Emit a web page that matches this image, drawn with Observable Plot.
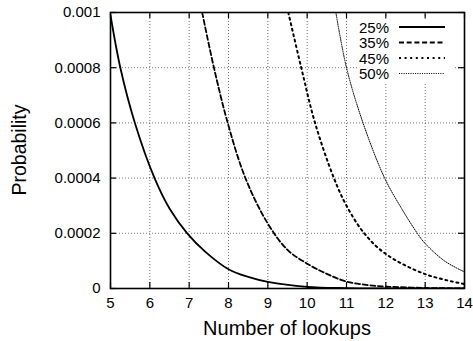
<!DOCTYPE html>
<html><head><meta charset="utf-8">
<script src="https://cdn.jsdelivr.net/npm/d3@7"></script>
<script src="https://cdn.jsdelivr.net/npm/@observablehq/plot@0.6"></script>
<style>
body{margin:0;background:#fff}
#chart svg{font-family:"Liberation Sans",Arial,Helvetica,sans-serif;display:block}
</style>
</head><body><div id="chart"></div>
<script>
const xTicks = [5, 6, 7, 8, 9, 10, 11, 12, 13, 14];
const yTicks = [0, 0.0002, 0.0004, 0.0006, 0.0008, 0.001];
const yTickLabels = ["0", "0.0002", "0.0004", "0.0006", "0.0008", "0.001"];
const seriesNames = ["25%", "35%", "45%", "50%"];

const lookups25 = [5, 5.25, 5.62, 6.12, 6.5, 6.95, 7.42, 8, 8.5, 9, 10, 11, 12, 13, 14];
const prob25 = [0.00099, 0.0008, 0.0006, 0.0004, 0.00029, 0.0002, 0.000132, 0.00007, 0.000042, 0.000024, 0.000006, 0.0000015, 0.0000004, 0.0000001, 0];
const lookups35 = [7.33, 7.63, 7.98, 8.43, 9.0, 9.5, 10, 10.5, 11, 11.5, 12, 13, 14];
const prob35 = [0.001, 0.0008, 0.0006, 0.0004, 0.000235, 0.00014, 0.00009, 0.000053, 0.000025, 0.000013, 0.000007, 0.000002, 0.0000005];
const lookups45 = [9.52, 9.85, 10.2, 10.68, 11.0, 11.45, 12, 13, 14];
const prob45 = [0.001, 0.0008, 0.0006, 0.0004, 0.0003, 0.0002, 0.000125, 0.000052, 0.000016];
const lookups50 = [10.73, 11.0, 11.42, 11.97, 12.4, 12.8, 13, 13.5, 14];
const prob50 = [0.001, 0.0008, 0.0006, 0.0004, 0.00029, 0.0002, 0.000163, 0.000099, 0.00006];

const styles = [
  {dash: null, width: 1.8},
  {dash: "5,2.7", width: 1.8},
  {dash: "2,3.6", width: 2},
  {dash: "1,1.3", width: 1}
];
const seriesX = [lookups25, lookups35, lookups45, lookups50];
const seriesY = [prob25, prob35, prob45, prob50];
const rows = seriesNames.map((name, s) => seriesX[s].map((x, i) => ({name, x, y: seriesY[s][i]})));

const W = 473, H = 341, mL = 110, mR = 9, mT = 12, mB = 53;
const fw = W - mL - mR, fh = H - mT - mB, tick = 6;
const labelMap = new Map(yTicks.map((d, i) => [d, yTickLabels[i]]));
const gridStyle = {stroke: "#000", strokeOpacity: 0.55, strokeDasharray: "1,2", strokeWidth: 1};

const chart = Plot.plot({
  width: W, height: H,
  marginLeft: mL, marginRight: mR, marginTop: mT, marginBottom: mB,
  style: {fontFamily: "Liberation Sans, Arial, sans-serif", background: "#fff", color: "#000"},
  x: {domain: [5, 14], ticks: xTicks},
  y: {domain: [0, 0.001], ticks: yTicks},
  marks: [
    Plot.gridX(xTicks, gridStyle),
    Plot.gridY(yTicks, gridStyle),
    ...rows.map((r, s) => Plot.line(r, {
      x: "x", y: "y", curve: "catmull-rom", stroke: "#000", clip: true,
      strokeWidth: styles[s].width, strokeDasharray: styles[s].dash
    })),
    Plot.tickX(xTicks, {x: d => d, insetTop: fh - tick, stroke: "#000", strokeWidth: 1.2}),
    Plot.tickX(xTicks, {x: d => d, insetBottom: fh - tick, stroke: "#000", strokeWidth: 1.2}),
    Plot.tickY(yTicks, {y: d => d, insetRight: fw - tick, stroke: "#000", strokeWidth: 1.2}),
    Plot.tickY(yTicks, {y: d => d, insetLeft: fw - tick, stroke: "#000", strokeWidth: 1.2}),
    Plot.axisX(xTicks, {tickSize: 0, tickPadding: 9, fontSize: 15, label: null}),
    Plot.axisY(yTicks, {tickSize: 0, tickPadding: 10, fontSize: 15, label: null, tickFormat: d => labelMap.get(d)}),
    Plot.frame({stroke: "#000", strokeWidth: 1.6})
  ]
});
document.getElementById("chart").appendChild(chart);

const svg = d3.select(chart);
svg.append("text").attr("x", mL + fw / 2).attr("y", 335).attr("text-anchor", "middle")
  .attr("font-size", 20).attr("fill", "#000").text("Number of lookups");
svg.append("text").attr("transform", `translate(26,${mT + fh / 2}) rotate(-90)`).attr("text-anchor", "middle")
  .attr("font-size", 19.5).attr("fill", "#000").text("Probability");

const leg = svg.append("g");
leg.append("rect").attr("x", 357).attr("y", 19).attr("width", 98).attr("height", 63).attr("fill", "#fff");
seriesNames.forEach((name, i) => {
  const by = 32.5 + 15.5 * i;
  leg.append("text").attr("x", 389).attr("y", by).attr("text-anchor", "end")
    .attr("font-size", 15).attr("fill", "#000").text(name);
  leg.append("line").attr("x1", 399).attr("x2", 445).attr("y1", by - 5.5).attr("y2", by - 5.5)
    .attr("stroke", "#000").attr("stroke-width", styles[i].width)
    .attr("stroke-dasharray", styles[i].dash);
});
</script>
</body></html>
